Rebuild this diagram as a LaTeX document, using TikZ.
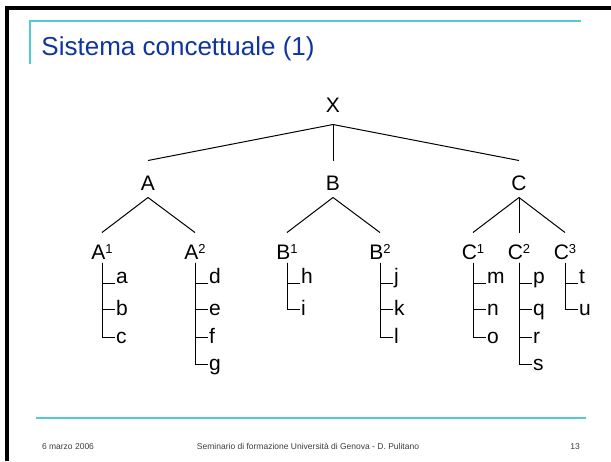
\documentclass[tikz,border=0pt]{standalone}
\usepackage{fontspec}
\setmainfont{Liberation Sans}
\usepackage{tikz}
\usetikzlibrary{positioning}

\definecolor{titleblue}{RGB}{16,52,160}
\definecolor{rulecyan}{RGB}{80,204,208}
\definecolor{footgray}{RGB}{60,60,60}

\newcommand{\idx}[1]{{\fontsize{13}{13}\selectfont\raisebox{5.6pt}{#1}}}

\tikzset{
  lbl/.style={inner sep=0,font=\fontsize{21}{21}\selectfont},
  root/.style={lbl,anchor=base,text height=15pt,text depth=12pt},
  levone/.style={lbl,anchor=base,text height=29pt,text depth=7pt},
  levtwo/.style={lbl,anchor=base,text height=26pt,text depth=3pt},
  leaftop/.style={lbl,anchor=west,inner xsep=.5pt,text height=12pt,text depth=12pt},
  leaf/.style={lbl,anchor=west,inner xsep=.5pt,text height=14pt,text depth=2pt},
  foot/.style={inner sep=0,anchor=base,font=\fontsize{8.5}{8.5}\selectfont,text=footgray}
}

\begin{document}
\begin{tikzpicture}[x=1pt,y=-1pt,line width=1pt]
\useasboundingbox (0,0) rectangle (611,461);

% frame and rules
\draw[line width=3.5pt] (7,461) -- (7,8) -- (611,8);
\draw[rulecyan,line width=1.2pt] (30,64) -- (30,21) -- (581,21);
\draw[rulecyan,line width=1.5pt] (36,418) -- (586,418);

\node[inner sep=0,anchor=base west,text=titleblue,
  font=\fontsize{26}{26}\selectfont] (title) at (41,55) {Sistema concettuale (1)};

% tree
\node[root] (X) at (333,112) {X};
\node[levone] (A) at (148,190) {A};
\node[levone] (B) at (333,190) {B};
\node[levone] (C) at (519,190) {C};

\node[levtwo] (A1) at (102,259) {A\idx{1}};
\node[levtwo] (A2) at (195,259) {A\idx{2}};
\node[levtwo] (B1) at (287,259) {B\idx{1}};
\node[levtwo] (B2) at (380,259) {B\idx{2}};
\node[levtwo] (C1) at (473,259) {C\idx{1}};
\node[levtwo] (C2) at (519,259) {C\idx{2}};
\node[levtwo] (C3) at (565,259) {C\idx{3}};

\draw (X.south) -- (A.north);
\draw (X.south) -- (B.north);
\draw (X.south) -- (C.north);

\draw (A.south) -- (A1.north);
\draw (A.south) -- (A2.north);
\draw (B.south) -- (B1.north);
\draw (B.south) -- (B2.north);
\draw (C.south) -- (C1.north);
\draw (C.south) -- (C2.north);
\draw (C.south) -- (C3.north);

% leaves
\node[leaftop] (a) at (115,283) {a};
\node[leaf] (b) at (115,309) {b};
\node[leaf] (c) at (115,337) {c};
\node[leaftop] (d) at (208,283) {d};
\node[leaf] (e) at (208,309) {e};
\node[leaf] (f) at (208,337) {f};
\node[leaf] (g) at (208,364) {g};
\node[leaftop] (h) at (300,283) {h};
\node[leaf] (i) at (300,309) {i};
\node[leaftop] (j) at (393,283) {j};
\node[leaf] (k) at (393,309) {k};
\node[leaf] (l) at (393,337) {l};
\node[leaftop] (m) at (486,283) {m};
\node[leaf] (n) at (486,309) {n};
\node[leaf] (o) at (486,337) {o};
\node[leaftop] (p) at (532,283) {p};
\node[leaf] (q) at (532,309) {q};
\node[leaf] (r) at (532,337) {r};
\node[leaf] (s) at (532,364) {s};
\node[leaftop] (t) at (578,283) {t};
\node[leaf] (u) at (578,309) {u};

\draw (A1.south) |- (a.west);
\draw (A1.south) |- (b.west);
\draw (A1.south) |- (c.west);
\draw (A2.south) |- (d.west);
\draw (A2.south) |- (e.west);
\draw (A2.south) |- (f.west);
\draw (A2.south) |- (g.west);
\draw (B1.south) |- (h.west);
\draw (B1.south) |- (i.west);
\draw (B2.south) |- (j.west);
\draw (B2.south) |- (k.west);
\draw (B2.south) |- (l.west);
\draw (C1.south) |- (m.west);
\draw (C1.south) |- (n.west);
\draw (C1.south) |- (o.west);
\draw (C2.south) |- (p.west);
\draw (C2.south) |- (q.west);
\draw (C2.south) |- (r.west);
\draw (C2.south) |- (s.west);
\draw (C3.south) |- (t.west);
\draw (C3.south) |- (u.west);

% footer
\node[foot] (date) at (68,449) {6 marzo 2006};
\node[foot] (event) at (308,449) {Seminario di formazione Università di Genova - D. Pulitano};
\node[foot] (page) at (575,449) {13};
\end{tikzpicture}
\end{document}
